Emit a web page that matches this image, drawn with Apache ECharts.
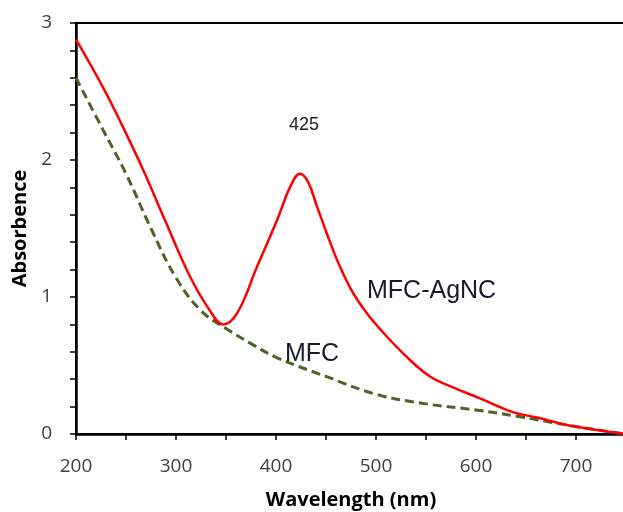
<!DOCTYPE html>
<html lang="en">
<head>
    <meta charset="UTF-8">
    <title>absorbance</title>
    <script src="https://cdn.jsdelivr.net/npm/echarts@6/dist/echarts.min.js"></script>
    <style>
        html,body{margin:0;padding:0;background:#fff}
    </style>
</head>
<body>
    <div id="main" style="width: 623px; height:512px"></div>
</body>
</html>

<script>
    // MFC-AgNC (red)
    agncX=[200,227,247,267,289,314,334,347,361,381,401,414,424,432,441,451,464,477,491,511,534,554,577,604,637,661,691,721,750]
    agncY=[2.88,2.53,2.24,1.93,1.56,1.15,0.90,0.80,0.88,1.22,1.56,1.80,1.90,1.84,1.66,1.46,1.22,1.03,0.88,0.71,0.54,0.42,0.34,0.26,0.16,0.12,0.066,0.03,0.0]

    // MFC (green dashed)
    mfcX=[200,227,250,275,300,325,350,375,400,450,500,550,600,644,681,721,750]
    mfcY=[2.60,2.22,1.90,1.50,1.14,0.90,0.77,0.66,0.56,0.42,0.29,0.22,0.175,0.126,0.078,0.03,0.0]

    xTicks={min:200,max:750,step:100}
    yTicks={min:0,max:3,step:1}

    pair=(xs,ys)=>xs.map((x,i)=>[x,ys[i]])

    let labelFont='"Open Sans", Lato, sans-serif'
    let textFont='"Liberation Sans", Arial, sans-serif'

    let option = {
        animation:false,
        backgroundColor:'#fff',
        grid:{left:76,right:-3,top:23,bottom:78,show:true,borderColor:'#000',borderWidth:2,outerBoundsMode:'none',containLabel:false},
        xAxis:{
            type:'value',
            min:xTicks.min,max:xTicks.max,interval:xTicks.step,
            name:'Wavelength (nm)',nameLocation:'middle',nameGap:56,
            nameTextStyle:{fontFamily:labelFont,fontWeight:'bold',fontSize:20,color:'#000'},
            axisLine:{lineStyle:{color:'#000',width:2.5}},
            axisTick:{length:6,lineStyle:{color:'#000',width:1.5}},
            minorTick:{show:true,splitNumber:2,length:6,lineStyle:{color:'#000',width:1.5}},
            axisLabel:{fontFamily:labelFont,fontSize:19,color:'#404040',margin:23,showMaxLabel:false},
            splitLine:{show:false}
        },
        yAxis:{
            type:'value',
            min:yTicks.min,max:yTicks.max,interval:yTicks.step,
            name:'Absorbence',nameLocation:'middle',nameGap:46,
            nameTextStyle:{fontFamily:labelFont,fontWeight:'bold',fontSize:20,color:'#000'},
            axisLine:{show:true,lineStyle:{color:'#000',width:2.5}},
            axisTick:{show:true,length:6,lineStyle:{color:'#000',width:1.5}},
            minorTick:{show:true,splitNumber:5,length:6,lineStyle:{color:'#000',width:1.5}},
            axisLabel:{fontFamily:labelFont,fontSize:19,color:'#404040',margin:24},
            splitLine:{show:false}
        },
        graphic:[
            {type:'text',left:289,top:116,style:{text:'425',font:'18px '+textFont,fill:'#222'}},
            {type:'text',left:367,top:279,style:{text:'MFC-AgNC',font:'25px '+textFont,fill:'#1a1a2e'}},
            {type:'text',left:285,top:342,style:{text:'MFC',font:'25px '+textFont,fill:'#1a1a2e'}}
        ],
        series:[
            {
                name:'MFC',type:'line',smooth:0.4,symbol:'none',
                lineStyle:{color:'#4f6228',width:3,type:[9,5]},
                data:pair(mfcX,mfcY)
            },
            {
                name:'MFC-AgNC',type:'line',smooth:0.4,symbol:'none',
                lineStyle:{color:'#ff0000',width:2.5},
                data:pair(agncX,agncY)
            }
        ]
    };

    var myChart = echarts.init(document.getElementById('main'));
    myChart.setOption(option);
</script>
